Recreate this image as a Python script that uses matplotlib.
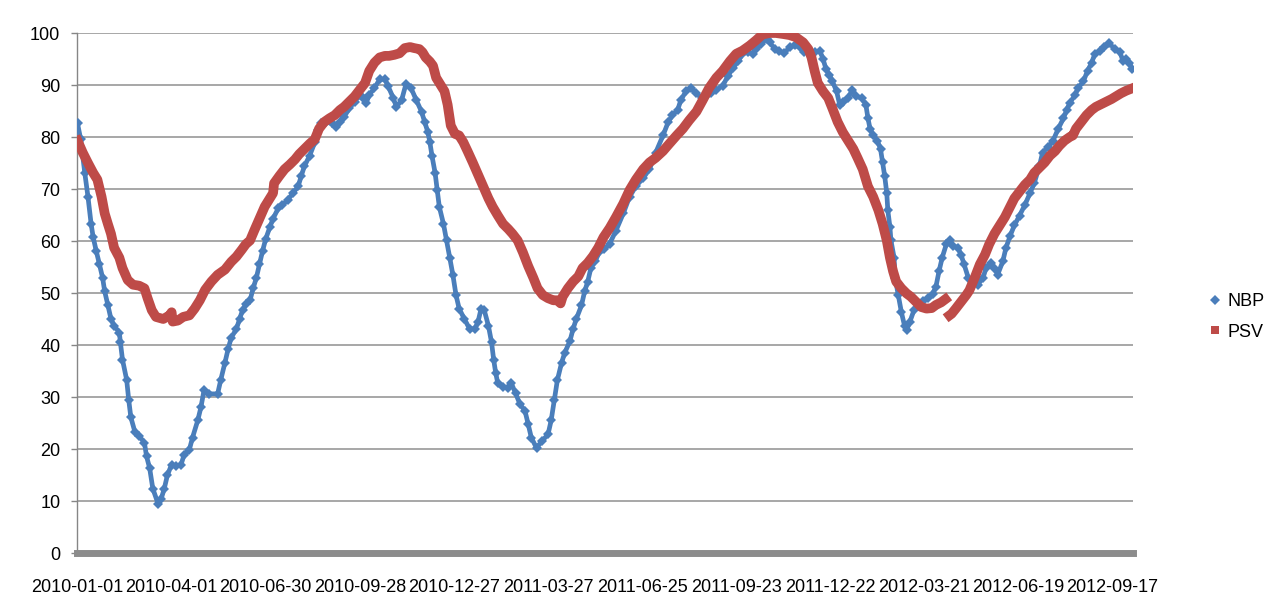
import numpy as np
import matplotlib
matplotlib.use("Agg")
import matplotlib.pyplot as plt
import matplotlib.dates as mdates
from matplotlib.lines import Line2D

# ---------------- data (day offset from 2010-01-01, value) ----------------
START = "2010-01-01"

NBP_DAY = [0, 3, 7, 10, 13, 15, 18, 21, 24, 26, 29, 32, 35, 40, 41, 43, 47, 49, 51, 55,
           59, 64, 66, 69, 72, 77, 80, 83, 86, 90, 94, 99, 102, 107, 110, 115, 118, 121, 126, 134,
           137, 141, 144, 147, 152, 155, 158, 161, 165, 168, 171, 174, 177, 180, 184, 187, 192, 196, 201, 206,
           211, 214, 217, 222, 227, 230, 233, 238, 243, 247, 251, 255, 260, 265, 270, 273, 276, 279, 284, 289,
           294, 297, 302, 305, 310, 314, 319, 324, 329, 332, 335, 337, 339, 342, 344, 346, 350, 353, 356, 359,
           362, 365, 370, 375, 380, 383, 386, 389, 393, 396, 398, 400, 402, 407, 412, 415, 419, 423, 428, 431,
           434, 439, 444, 450, 453, 456, 459, 463, 466, 471, 474, 477, 482, 485, 488, 491, 495, 499, 504, 509,
           515, 522, 528, 534, 541, 547, 553, 560, 565, 569, 574, 577, 582, 587, 592, 597, 601, 606, 611, 617,
           622, 627, 632, 636, 641, 646, 649, 654, 659, 662, 667, 671, 676, 681, 686, 691, 695, 700, 705, 710,
           713, 716, 719, 722, 726, 729, 732, 737, 741, 745, 750, 754, 756, 758, 761, 765, 768, 770, 772, 774,
           775, 777, 778, 781, 782, 785, 788, 791, 793, 796, 800, 804, 809, 813, 818, 821, 824, 827, 831, 834,
           837, 842, 845, 848, 852, 856, 861, 866, 869, 874, 877, 880, 885, 888, 892, 896, 901, 906, 911, 915,
           920, 923, 928, 933, 938, 943, 946, 949, 954, 957, 962, 966, 970, 973, 978, 982, 987, 992, 997, 1000,
           1003, 1006, 1009]
NBP_VAL = [82.6, 79.6, 73.0, 68.5, 63.3, 60.7, 58.0, 55.5, 52.9, 50.3, 47.7, 45.0, 43.7, 42.4, 40.5, 37.2, 33.3, 29.4, 26.1, 23.2,
           22.5, 21.2, 18.6, 16.3, 12.4, 9.5, 10.4, 12.4, 15.0, 17.0, 16.7, 17.0, 18.9, 19.9, 22.2, 25.5, 28.0, 31.3, 30.6, 30.6,
           33.3, 36.6, 39.2, 41.4, 43.1, 45.0, 46.8, 47.8, 48.6, 50.9, 52.9, 55.5, 58.1, 60.4, 62.7, 64.3, 66.3, 66.9, 67.9, 69.2,
           70.5, 72.5, 74.4, 76.4, 79.0, 81.3, 82.6, 82.9, 82.6, 81.9, 82.9, 83.9, 85.5, 86.8, 88.1, 87.5, 86.5, 88.1, 89.4, 91.1,
           91.1, 89.8, 87.5, 85.8, 87.1, 90.1, 89.4, 87.1, 84.9, 82.9, 81.0, 79.0, 76.4, 73.1, 69.8, 66.6, 63.3, 60.1, 56.8, 53.5,
           49.6, 47.0, 45.0, 43.1, 43.1, 44.4, 47.0, 46.7, 43.7, 40.5, 37.2, 34.6, 32.6, 32.0, 31.7, 32.6, 30.7, 28.7, 27.3, 24.8,
           22.2, 20.2, 21.5, 22.8, 25.5, 29.4, 33.3, 36.6, 38.5, 40.8, 43.1, 45.0, 47.6, 50.3, 52.2, 54.8, 56.1, 57.8, 58.4, 59.5,
           62.0, 65.3, 68.5, 70.5, 72.1, 73.8, 77.0, 80.3, 82.9, 84.2, 85.2, 87.1, 88.8, 89.4, 88.4, 87.5, 87.8, 88.4, 89.1, 89.8,
           91.7, 93.3, 94.6, 96.0, 96.3, 96.0, 96.9, 97.9, 98.9, 98.2, 96.9, 96.5, 96.1, 97.3, 97.6, 97.3, 96.3, 96.5, 96.3, 96.6,
           95.0, 93.0, 92.0, 90.7, 88.8, 86.2, 86.8, 87.5, 89.1, 87.8, 87.5, 86.2, 83.6, 81.6, 80.3, 79.3, 77.7, 75.1, 72.5, 69.2,
           65.9, 62.7, 60.1, 56.8, 52.9, 49.6, 46.3, 43.7, 42.9, 44.4, 46.7, 48.0, 48.4, 49.0, 49.9, 51.2, 54.2, 56.8, 59.4, 60.1,
           59.1, 58.7, 57.4, 55.5, 52.9, 52.5, 51.6, 52.9, 54.8, 55.8, 54.8, 53.5, 56.1, 58.7, 61.0, 63.0, 64.9, 66.9, 69.2, 71.1,
           74.4, 77.0, 78.0, 79.3, 81.6, 83.6, 85.2, 86.5, 88.1, 89.4, 90.7, 92.7, 94.3, 96.0, 96.6, 97.3, 98.0, 96.9, 96.3, 94.6,
           95.0, 94.3, 93.0]

PSV_DAY = [0, 5, 10, 15, 19, 23, 26, 29, 32, 35, 40, 43, 48, 53, 59, 64, 67, 71, 75, 82,
           88, 90, 91, 96, 101, 107, 112, 117, 122, 128, 134, 141, 147, 152, 157, 161, 165, 169, 174, 179,
           184, 187, 188, 193, 198, 203, 208, 212, 217, 222, 227, 231, 236, 241, 246, 251, 255, 260, 265, 270,
           275, 279, 284, 289, 294, 298, 303, 308, 313, 318, 322, 327, 330, 333, 337, 340, 343, 348, 351, 354,
           357, 361, 365, 369, 373, 378, 383, 388, 393, 397, 402, 407, 412, 416, 421, 426, 431, 436, 440, 445,
           450, 455, 459, 462, 464, 469, 474, 479, 483, 488, 493, 498, 503, 509, 515, 522, 528, 534, 541, 547,
           553, 560, 566, 573, 579, 585, 592, 598, 604, 611, 617, 624, 630, 636, 643, 649, 655, 662, 668, 675,
           681, 687, 694, 699, 702, 705, 708, 713, 718, 722, 727, 732, 737, 742, 746, 751, 756, 761, 766, 770,
           774, 777, 780, 783, 788, 793, 797, 802, 807, 812, 817, 821, 826, 830, 832, 834, 836, 840, 845, 850,
           853, 858, 863, 868, 872, 877, 882, 887, 892, 896, 901, 906, 911, 915, 920, 925, 930, 935, 939, 944,
           949, 952, 955, 960, 965, 970, 974, 979, 984, 989, 994, 998, 1003, 1008]
PSV_VAL = [79.3, 77.0, 75.0, 73.1, 71.8, 68.5, 65.3, 63.3, 61.4, 58.7, 56.8, 54.8, 52.5, 51.6, 51.4, 50.9, 49.0, 46.7, 45.4, 45.0,
           45.7, 46.3, 44.5, 44.7, 45.4, 45.7, 47.0, 48.6, 50.6, 52.2, 53.5, 54.5, 56.0, 57.0, 58.3, 59.4, 60.1, 62.0, 64.3, 66.6,
           68.2, 69.2, 71.1, 72.5, 73.8, 74.7, 75.7, 76.7, 77.7, 78.7, 79.6, 81.6, 82.9, 83.6, 84.2, 85.2, 85.8, 86.8, 87.8, 89.1,
           90.4, 92.7, 94.3, 95.3, 95.6, 95.6, 95.8, 96.1, 97.1, 97.3, 97.1, 96.9, 96.3, 95.3, 94.5, 93.7, 91.4, 89.8, 88.8, 86.2,
           82.2, 80.6, 80.3, 79.0, 77.3, 75.1, 72.8, 70.5, 68.2, 66.6, 64.9, 63.3, 62.3, 61.4, 60.1, 57.8, 55.2, 52.9, 50.9, 49.6,
           49.0, 48.6, 48.6, 48.0, 49.3, 50.9, 52.2, 53.2, 54.8, 55.8, 57.1, 58.7, 60.7, 62.5, 64.6, 67.2, 69.8, 71.8, 73.8, 75.1,
           76.0, 77.3, 78.7, 80.3, 81.6, 83.2, 84.9, 87.1, 89.4, 91.4, 92.7, 94.6, 96.0, 96.6, 97.6, 98.6, 99.7, 100.0, 100.0, 99.8,
           99.6, 99.2, 98.2, 96.9, 95.3, 92.7, 90.4, 88.8, 87.5, 85.5, 82.9, 80.9, 79.3, 77.7, 76.0, 73.8, 70.5, 68.5, 65.9, 63.3,
           60.1, 56.8, 54.2, 52.2, 50.9, 49.9, 49.3, 48.3, 47.3, 47.0, 47.1, 47.7, 48.2, 48.8, np.nan, 45.7, 46.0, 47.0, 48.3, 49.6,
           50.5, 52.9, 55.5, 57.4, 59.4, 61.4, 63.0, 64.6, 66.6, 68.2, 69.5, 70.8, 71.8, 73.1, 74.1, 75.1, 76.4, 77.3, 78.3, 79.3,
           80.0, 80.3, 81.6, 82.9, 84.2, 85.2, 85.8, 86.3, 86.8, 87.3, 87.9, 88.4, 88.9, 89.3]

TICK_EVERY_DAYS = 90
N_TICKS = 12
Y_TICKS = list(range(0, 101, 10))

NBP_COLOR = "#4a7ebb"
PSV_COLOR = "#be4b48"

# ---------------- figure ----------------
plt.rcParams["font.family"] = ["Liberation Sans", "DejaVu Sans"]
fig = plt.figure(figsize=(12.69, 6.12), dpi=100)
ax = fig.add_axes([77 / 1269, 1 - 553 / 612, (1133 - 77) / 1269, (553 - 33) / 612])

start = np.datetime64(START)
nbp_dates = start + np.array(NBP_DAY).astype("timedelta64[D]")
psv_dates = start + np.array(PSV_DAY).astype("timedelta64[D]")

ax.plot(nbp_dates, NBP_VAL, color=NBP_COLOR, lw=3.4, marker="D", markersize=4.6,
        markeredgewidth=0, solid_joinstyle="round", solid_capstyle="round", zorder=3)
ax.plot(psv_dates, PSV_VAL, color=PSV_COLOR, lw=7.0, solid_capstyle="projecting",
        solid_joinstyle="round", zorder=4)

x0 = mdates.date2num(start)
ax.set_xlim(x0 - 0.5, x0 + 1009.5)
ax.set_ylim(0, 100)

ticks = [x0 + TICK_EVERY_DAYS * k for k in range(N_TICKS)]
ax.set_xticks(ticks)
ax.xaxis.set_major_formatter(mdates.DateFormatter("%Y-%m-%d"))
ax.set_yticks(Y_TICKS)

ax.grid(axis="y", color="#a0a0a0", lw=1.3, zorder=0)
ax.set_axisbelow(True)
for s in ("top", "right"):
    ax.spines[s].set_visible(False)
ax.spines["left"].set_color("#868686")
ax.spines["left"].set_linewidth(1.0)
ax.spines["bottom"].set_color("#8c8c8c")
ax.spines["bottom"].set_linewidth(5.0)
ax.spines["bottom"].set_zorder(5)

ax.tick_params(axis="x", length=0, pad=19, labelsize=13, colors="black")
ax.tick_params(axis="y", length=4, width=1, color="#868686", pad=8, labelsize=13, labelcolor="black")

handles = [
    Line2D([], [], color=NBP_COLOR, marker="D", linestyle="None", markersize=4.8, markeredgewidth=0),
    Line2D([], [], color=PSV_COLOR, marker="s", linestyle="None", markersize=6.2, markeredgewidth=0),
]
fig.legend(handles, ["NBP", "PSV"], loc="center left", bbox_to_anchor=(1209 / 1269, 1 - 317 / 612),
           frameon=False, fontsize=13, handlelength=0.7, handletextpad=0.35,
           labelspacing=0.75, borderpad=0, borderaxespad=0)

fig.savefig("out.png", dpi=100, facecolor="white")
